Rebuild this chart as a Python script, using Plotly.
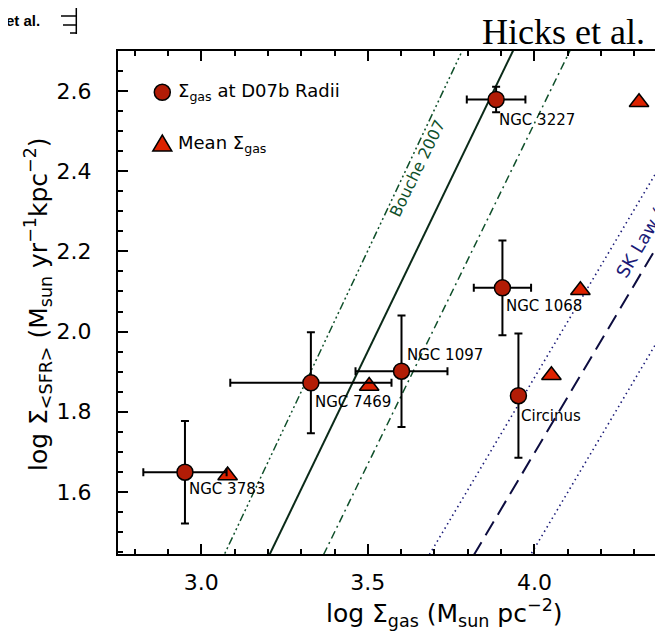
import numpy as np
import plotly.graph_objects as go

# ---------------- data ----------------
galaxies = ["NGC 3783", "NGC 7469", "NGC 1097", "NGC 3227", "NGC 1068", "Circinus"]
log_sgas = [2.951, 3.329, 3.601, 3.885, 3.904, 3.952]
log_sfr = [1.649, 1.872, 1.901, 2.579, 2.109, 1.840]
err_sgas = [0.125, 0.242, 0.138, 0.088, 0.086, 0.020]
err_sfr = [0.128, 0.126, 0.139, 0.032, 0.118, 0.155]

mean_sgas = [3.079, 3.504, 4.051, 4.138, 4.314]
mean_sfr = [1.641, 1.864, 1.891, 2.103, 2.572]

# relations: log SFR = slope * log Sgas + intercept
bouche_slope = [1.76, 1.72, 1.70]
bouche_icpt = [-3.958, -4.069, -4.2806]
sk_slope = [1.40, 1.40, 1.40]
sk_icpt = [-3.715, -3.903, -4.141]

x_range = [2.75, 4.41]
y_range = [1.445, 2.70]

# label offsets (px) relative to the circle
label_dx = [2, 2.5, 3.5, 1, 2, 1]
label_dy = [-17, -19, 16, -20, -18, -20]

FONT = "DejaVu Sans"
GREEN = "#0f4f2a"
NAVY = "#1b1b78"

# plot-area geometry (px)
L, T, W, H = 110, 43, 553, 503

fig = go.Figure()

xl = np.array(x_range)
bouche_dash = ["8px,3px,2px,3px,2px,3px,2px,3px", "solid", "8px,4px,2px,4px"]
bouche_width = [1.5, 2, 1.5]
for m, c, d, w in zip(bouche_slope, bouche_icpt, bouche_dash, bouche_width):
    fig.add_trace(go.Scatter(x=xl, y=m * xl + c, mode="lines",
                             line=dict(color=GREEN if d != "solid" else "#0a2a18", width=w, dash=d),
                             showlegend=False, hoverinfo="skip"))

sk_dash = ["1.5px,3.5px", "16px,8px", "1.5px,3.5px"]
sk_width = [1.6, 2, 1.6]
sk_col = [NAVY, "#0d0d40", NAVY]
for m, c, d, w, col in zip(sk_slope, sk_icpt, sk_dash, sk_width, sk_col):
    fig.add_trace(go.Scatter(x=xl, y=m * xl + c, mode="lines",
                             line=dict(color=col, width=w, dash=d),
                             showlegend=False, hoverinfo="skip"))

fig.add_trace(go.Scatter(x=mean_sgas, y=mean_sfr, mode="markers",
                         marker=dict(symbol="triangle-up", size=17, color="#dd2200",
                                     line=dict(color="black", width=1.5)),
                         showlegend=False))

fig.add_trace(go.Scatter(x=log_sgas, y=log_sfr, mode="markers",
                         marker=dict(symbol="circle", size=16, color="#b21c06",
                                     line=dict(color="black", width=1.5)),
                         error_x=dict(type="data", array=err_sgas, color="black", thickness=2, width=4),
                         error_y=dict(type="data", array=err_sfr, color="black", thickness=2, width=4),
                         showlegend=False))


def px2paper(px, py):
    return (px - L) / float(W), (T + H - py) / float(H)


annotations = []
for g, x, y, dx, dy in zip(galaxies, log_sgas, log_sfr, label_dx, label_dy):
    annotations.append(dict(x=x, y=y, xref="x", yref="y", text=g, showarrow=False,
                            xanchor="left", yanchor="middle", xshift=dx, yshift=dy,
                            font=dict(family=FONT, size=15, color="black")))


def ann(px, py, text, size, color="black", family=FONT, xanchor="center", yanchor="middle", angle=0):
    ax, ay = px2paper(px, py)
    return dict(x=ax, y=ay, xref="paper", yref="paper", text=text, showarrow=False,
                xanchor=xanchor, yanchor=yanchor, textangle=angle,
                font=dict(family=family, size=size, color=color))


annotations += [
    ann(168, 84.3, "Σ<sub>gas</sub> at D07b Radii", 18, xanchor="left"),
    ann(168, 136.3, "Mean Σ<sub>gas</sub>", 18, xanchor="left"),
    ann(409, 160, "Bouche 2007", 16, color=GREEN, angle=-64),
    ann(645.5, 212.5, "SK Law (1998)", 18, color=NAVY, angle=-59.3),
    ann(472, 24, "Hicks et al.", 36, family="Liberation Serif", xanchor="left"),
    ann(-4, 13, "<b>et al.</b>", 15, family="Liberation Sans", xanchor="left"),
    ann(436, 605, "log Σ<sub>gas</sub> (M<sub>sun</sub> pc<sup>−2</sup>)", 25),
    ann(30, 296, "log Σ<sub>&lt;SFR&gt;</sub> (M<sub>sun</sub> yr<sup>−1</sup>kpc<sup>−2</sup>)", 25, angle=-90),
]

shapes = []
# legend symbols
cx, cy = px2paper(154.3, 84.3)
shapes.append(dict(type="circle", xref="paper", yref="paper", xsizemode="pixel", ysizemode="pixel",
                   xanchor=cx, yanchor=cy, x0=-8, x1=8, y0=-8, y1=8,
                   fillcolor="#b21c06", line=dict(color="black", width=1.5)))
tx, ty = px2paper(154.3, 136)
shapes.append(dict(type="path", xref="paper", yref="paper", xsizemode="pixel", ysizemode="pixel",
                   xanchor=tx, yanchor=ty, path="M -9.5,-7 L 9.5,-7 L 0,9 Z",
                   fillcolor="#dd2200", line=dict(color="black", width=1.5)))
# fragment of neighbouring panel axis at top-left
for (x0, y0, x1, y1) in [(68.3, 0, 68.3, 26), (53, 8, 68.3, 8), (55, 17, 68.3, 17), (62, 25, 68.3, 25)]:
    a0, b0 = px2paper(x0, y0)
    a1, b1 = px2paper(x1, y1)
    shapes.append(dict(type="line", xref="paper", yref="paper", x0=a0, y0=b0, x1=a1, y1=b1,
                       line=dict(color="black", width=1.5)))

fig.update_layout(
    width=663, height=635,
    margin=dict(l=L, r=663 - L - W, t=T, b=635 - T - H),
    paper_bgcolor="white", plot_bgcolor="white",
    annotations=annotations, shapes=shapes,
    showlegend=False,
    xaxis=dict(range=x_range, showline=True, linecolor="black", linewidth=2, mirror="ticks",
               ticks="inside", ticklen=10, tickwidth=1.5, tickcolor="black",
               tick0=3.0, dtick=0.5, tickformat=".1f", showgrid=False, zeroline=False,
               tickfont=dict(family=FONT, size=22, color="black"), ticklabelstandoff=8,
               minor=dict(dtick=0.1, ticks="inside", ticklen=5, tickwidth=1.5, tickcolor="black",
                          showgrid=False)),
    yaxis=dict(range=y_range, showline=True, linecolor="black", linewidth=2, mirror=False,
               ticks="inside", ticklen=10, tickwidth=1.5, tickcolor="black",
               tick0=1.6, dtick=0.2, tickformat=".1f", showgrid=False, zeroline=False,
               tickfont=dict(family=FONT, size=22, color="black"), ticklabelstandoff=20,
               minor=dict(dtick=0.05, ticks="inside", ticklen=5, tickwidth=1.5, tickcolor="black",
                          showgrid=False)),
)

fig.write_html("out.html")
